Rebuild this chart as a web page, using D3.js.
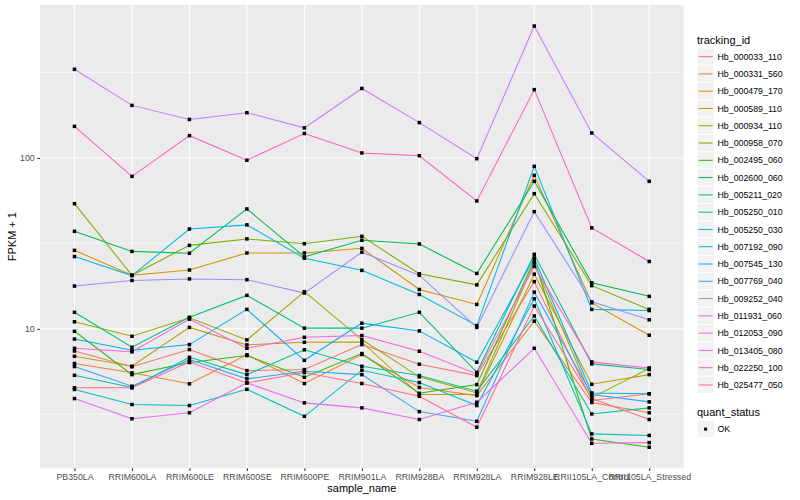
<!DOCTYPE html>
<html>
<head>
<meta charset="utf-8">
<script src="https://cdn.jsdelivr.net/npm/d3@7"></script>
<style>
body { margin: 0; background: #fff; }
text { font-family: "Liberation Sans", Arial, sans-serif; }
</style>
</head>
<body>
<svg id="chart" width="800" height="500"></svg>
<script>
const samples = ['PB350LA', 'RRIM600LA', 'RRIM600LE', 'RRIM600SE', 'RRIM600PE', 'RRIM901LA',
	'RRIM928BA', 'RRIM928LA', 'RRIM928LE', 'RRII105LA_Control', 'RRII105LA_Stressed'];

const trackingIds = ['Hb_000033_110', 'Hb_000331_560', 'Hb_000479_170', 'Hb_000589_110', 'Hb_000934_110',
	'Hb_000958_070', 'Hb_002495_060', 'Hb_002600_060', 'Hb_005211_020', 'Hb_005250_010',
	'Hb_005250_030', 'Hb_007192_090', 'Hb_007545_130', 'Hb_007769_040', 'Hb_009252_040',
	'Hb_011931_060', 'Hb_012053_090', 'Hb_013405_080', 'Hb_022250_100', 'Hb_025477_050'];

// FPKM + 1, one row per tracking_id, one value per sample
const fpkm = [
	[7.42, 6.0, 7.57, 5.70, 5.78, 8.09, 6.21, 5.33, 18.9, 3.81, 4.17],
	[6.27, 5.53, 4.77, 7.05, 4.79, 7.08, 4.54, 4.07, 11.1, 3.71, 3.23],
	[28.8, 20.6, 22.1, 27.8, 27.8, 29.6, 17.0, 13.9, 79.1, 14.2, 9.18],
	[6.91, 6.05, 10.2, 8.06, 8.35, 8.39, 4.13, 4.13, 20.9, 4.74, 5.40],
	[11.0, 9.05, 11.6, 8.62, 16.5, 8.66, 5.24, 4.22, 24.3, 3.96, 5.86],
	[54.0, 20.6, 30.8, 33.6, 31.5, 34.8, 21.0, 18.1, 61.8, 17.9, 13.0],
	[9.68, 5.40, 6.35, 6.98, 5.21, 7.17, 4.20, 4.72, 25.2, 2.27, 2.03],
	[37.2, 28.4, 27.7, 50.3, 26.4, 33.0, 31.4, 21.1, 73.0, 18.6, 15.5],
	[12.5, 7.81, 11.7, 15.7, 10.1, 10.1, 12.5, 5.57, 27.3, 6.24, 5.78],
	[5.35, 4.54, 6.82, 5.40, 7.54, 6.04, 5.33, 4.32, 11.9, 3.18, 3.45],
	[4.42, 3.61, 3.56, 4.43, 3.08, 5.73, 4.85, 3.56, 15.0, 2.43, 2.38],
	[26.5, 20.5, 38.4, 40.6, 25.9, 22.0, 15.9, 10.45, 89.3, 13.0, 12.8],
	[8.72, 7.50, 8.09, 13.0, 6.55, 10.8, 9.73, 6.38, 26.0, 4.22, 4.17],
	[6.02, 4.62, 6.61, 5.10, 5.65, 5.40, 3.28, 2.88, 16.4, 4.13, 3.74],
	[17.8, 19.2, 19.6, 19.4, 16.2, 28.1, 20.6, 10.2, 48.5, 14.4, 11.3],
	[330, 203, 168, 184, 150, 255, 161, 99, 591, 140, 73],
	[3.91, 2.98, 3.23, 4.83, 3.69, 3.45, 2.95, 3.72, 7.70, 2.14, 2.16],
	[7.70, 7.34, 11.4, 7.70, 8.93, 9.14, 7.40, 5.45, 23.2, 6.41, 5.91],
	[153, 78, 135, 97, 139, 107, 103, 56, 251, 39, 24.8],
	[4.52, 4.52, 6.40, 4.83, 5.55, 4.79, 4.03, 2.66, 13.6, 3.91, 2.95]
];

const yTicks = [10, 100];
const yMinor = [3.1623, 31.623, 316.23];

// ggplot hue palette for 20 groups
const palette = ['#F8766D', '#EA8331', '#D89000', '#C09B00', '#A3A500', '#7CAE00', '#39B600', '#00BB4E',
	'#00BF7D', '#00C1A3', '#00BFC4', '#00BAE0', '#00B0F6', '#35A2FF', '#9590FF', '#C77CFF',
	'#E76BF3', '#FA62DB', '#FF62BC', '#FF6C91'];

const panel = { left: 40, right: 683.7, top: 5, bottom: 468.3 };

let svg = d3.select('#chart');

let x = d3.scalePoint()
	.domain(samples)
	.range([panel.left, panel.right])
	.padding(0.6);

// log domain with 5% expansion like ggplot
let all = fpkm.flat();
let lo = Math.log10(d3.min(all)), hi = Math.log10(d3.max(all));
let pad = (hi - lo) * 0.05;
let y = d3.scaleLog()
	.domain([Math.pow(10, lo - pad), Math.pow(10, hi + pad)])
	.range([panel.bottom, panel.top]);

let color = d3.scaleOrdinal().domain(trackingIds).range(palette);

// panel background + grid
svg.append('rect')
	.attr('x', panel.left).attr('y', panel.top)
	.attr('width', panel.right - panel.left).attr('height', panel.bottom - panel.top)
	.attr('fill', '#EBEBEB');

svg.append('g').selectAll('line').data(yMinor).enter().append('line')
	.attr('x1', panel.left).attr('x2', panel.right)
	.attr('y1', d => y(d)).attr('y2', d => y(d))
	.attr('stroke', '#fff').attr('stroke-width', 0.55);

svg.append('g').selectAll('line').data(yTicks).enter().append('line')
	.attr('x1', panel.left).attr('x2', panel.right)
	.attr('y1', d => y(d)).attr('y2', d => y(d))
	.attr('stroke', '#fff').attr('stroke-width', 1.1);

svg.append('g').selectAll('line').data(samples).enter().append('line')
	.attr('x1', d => x(d)).attr('x2', d => x(d))
	.attr('y1', panel.top).attr('y2', panel.bottom)
	.attr('stroke', '#fff').attr('stroke-width', 1.1);

// lines
let line = d3.line()
	.x((d, i) => x(samples[i]))
	.y(d => y(d));

svg.append('g').selectAll('path').data(fpkm).enter().append('path')
	.attr('d', line)
	.attr('fill', 'none')
	.attr('stroke', (d, i) => color(trackingIds[i]))
	.attr('stroke-width', 1.05);

// points
let pts = [];
fpkm.forEach(function(row) {
	row.forEach(function(v, j) { pts.push({ s: samples[j], v: v }); });
});
svg.append('g').selectAll('rect').data(pts).enter().append('rect')
	.attr('x', d => x(d.s) - 1.75)
	.attr('y', d => y(d.v) - 1.75)
	.attr('width', 3.5).attr('height', 3.5)
	.attr('fill', '#000');

// axes
let xAxis = svg.append('g')
	.attr('transform', 'translate(0,' + panel.bottom + ')')
	.call(d3.axisBottom(x).tickSizeInner(2.75).tickSizeOuter(0).tickPadding(2.5));
let yAxis = svg.append('g')
	.attr('transform', 'translate(' + panel.left + ',0)')
	.call(d3.axisLeft(y).tickValues(yTicks).tickFormat(d3.format('d')).tickSizeInner(2.75).tickSizeOuter(0).tickPadding(2.5));

[xAxis, yAxis].forEach(function(a) {
	a.select('.domain').remove();
	a.selectAll('line').attr('stroke', '#333333').attr('stroke-width', 1.07);
	a.selectAll('text').attr('fill', '#4D4D4D').attr('font-size', 8.8)
		.style('font-family', '"Liberation Sans", Arial, sans-serif');
});

svg.append('text')
	.attr('x', (panel.left + panel.right) / 2).attr('y', 492)
	.attr('text-anchor', 'middle').attr('font-size', 11).attr('fill', '#000')
	.text('sample_name');

svg.append('text')
	.attr('transform', 'translate(16,' + (panel.top + panel.bottom) / 2 + ') rotate(-90)')
	.attr('text-anchor', 'middle').attr('font-size', 11).attr('fill', '#000')
	.text('FPKM + 1');

// legend
let lg = svg.append('g').attr('transform', 'translate(697,0)');
lg.append('text').attr('x', 0).attr('y', 44).attr('font-size', 11).text('tracking_id');

let keys = lg.selectAll('g.key').data(trackingIds).enter().append('g')
	.attr('class', 'key')
	.attr('transform', (d, i) => 'translate(0,' + (48 + i * 17.28) + ')');
keys.append('rect')
	.attr('width', 17.28).attr('height', 17.28)
	.attr('fill', '#F2F2F2').attr('stroke', '#fff').attr('stroke-width', 1);
keys.append('line')
	.attr('x1', 1.7).attr('x2', 15.6).attr('y1', 8.64).attr('y2', 8.64)
	.attr('stroke', d => color(d)).attr('stroke-width', 1.05);
keys.append('text')
	.attr('x', 20.5).attr('y', 11.8).attr('font-size', 8.8).attr('fill', '#000')
	.text(d => d);

lg.append('text').attr('x', 0).attr('y', 416).attr('font-size', 11).text('quant_status');
let ok = lg.append('g').attr('transform', 'translate(0,420.5)');
ok.append('rect').attr('width', 17.28).attr('height', 17.28)
	.attr('fill', '#F2F2F2').attr('stroke', '#fff');
ok.append('rect').attr('x', 7.1).attr('y', 7.1).attr('width', 3).attr('height', 3).attr('fill', '#000');
ok.append('text').attr('x', 20.5).attr('y', 11.8).attr('font-size', 8.8).text('OK');
</script>
</body>
</html>
